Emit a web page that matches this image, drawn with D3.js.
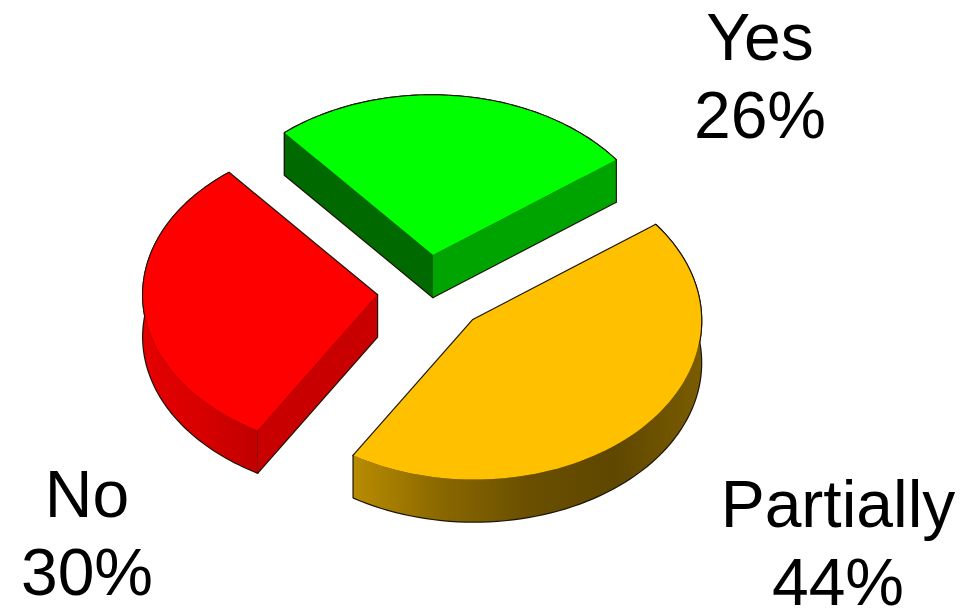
<!DOCTYPE html>
<html>
<head>
<meta charset="utf-8">
<script src="https://cdn.jsdelivr.net/npm/d3@7"></script>
<style>
html, body { margin: 0; padding: 0; background: #fff; }
svg { display: block; }
text { font-family: "Liberation Sans", Arial, sans-serif; font-size: 66px; fill: #000; }
</style>
</head>
<body>
<script>
// chart values
const categories = ['Yes', 'Partially', 'No']
const shares = [26, 44, 30]

// colours per slice
const topColors = ['#00ff00', '#ffc000', '#ff0000']
const startWallColors = ['#006a00', '#7a5c00', '#c80000']
const endWallColors = ['#00a400', '#7a5c00', '#d20000']
const outerWallStops = [
    ['#00a000', '#00a000'],
    ['#b88c00', '#8a6800', '#6a4f00', '#5f4700', '#7a5c00'],
    ['#e40000', '#d80000', '#c00000']
]

// layout
const width = 963
const height = 608
const pieCenter = [431, 293]
const depth = 42
const axisU = [-148, -122]   // where angle 0 lands on screen
const axisV = [173.6, -102.9] // where a quarter turn lands on screen
const sliceShift = [[2, -38], [42, 27], [-54, 2]]
const arcBulge = [0, 0, 0.025] // the red rim sits a little further out than the ellipse
const labelPos = [[760, 60], [838, 527], [87, 517]]
const lineGap = 78

const svg = d3.select('body').append('svg')
    .attr('width', width)
    .attr('height', height)

const arcs = d3.pie().sort(null).value(d => d)(shares)

function project(a, i, r, z) {
    return [
        pieCenter[0] + sliceShift[i][0] + r * (axisU[0] * Math.cos(a) + axisV[0] * Math.sin(a)),
        pieCenter[1] + sliceShift[i][1] + r * (axisU[1] * Math.cos(a) + axisV[1] * Math.sin(a)) + z
    ]
}

const line = d3.line()

function arcPoints(d, i, z) {
    const n = 80
    return d3.range(n + 1).map(k => {
        const a = d.startAngle + (d.endAngle - d.startAngle) * k / n
        return project(a, i, 1 + arcBulge[i] * Math.sin(Math.PI * k / n), z)
    })
}

const topPath = (d, i) => line([project(0, i, 0, 0), ...arcPoints(d, i, 0)]) + 'Z'
const outerPath = (d, i) => line([...arcPoints(d, i, 0), ...arcPoints(d, i, depth).reverse()]) + 'Z'
const radialPath = (a, i) => line([
    project(a, i, 0, 0), project(a, i, 1, 0), project(a, i, 1, depth), project(a, i, 0, depth)
]) + 'Z'

// a radial wall shows only if the slice lies above its edge, not below it
function wallShows(a, d, i) {
    const o = project(0, i, 0, 0)
    const e = project(a, i, 1, 0)
    const m = project((d.startAngle + d.endAngle) / 2, i, 1, 0)
    const ex = e[0] - o[0]
    const ey = e[1] - o[1]
    const crossMid = ex * (m[1] - o[1]) - ey * (m[0] - o[0])
    return crossMid * ex < 0
}

const defs = svg.append('defs')
arcs.forEach((d, i) => {
    const xs = arcPoints(d, i, 0).map(p => p[0])
    const grad = defs.append('linearGradient')
        .attr('id', 'outer' + i)
        .attr('gradientUnits', 'userSpaceOnUse')
        .attr('x1', d3.min(xs)).attr('x2', d3.max(xs))
        .attr('y1', 0).attr('y2', 0)
    grad.selectAll('stop')
        .data(outerWallStops[i])
        .join('stop')
        .attr('offset', (c, k, all) => k / (all.length - 1))
        .attr('stop-color', c => c)
})

// dark outline goes under everything, only its outer half stays visible
const outline = svg.append('g')
    .attr('fill', '#1c1408')
    .attr('stroke', '#1c1408')
    .attr('stroke-width', 2.4)
    .attr('stroke-linejoin', 'round')
const slicesLayer = svg.append('g')

arcs.forEach((d, i) => {
    const g = slicesLayer.append('g').attr('class', 'slice')

    outline.append('path').attr('d', outerPath(d, i))
    g.append('path').attr('d', outerPath(d, i)).attr('fill', `url(#outer${i})`)

    if (wallShows(d.startAngle, d, i)) {
        outline.append('path').attr('d', radialPath(d.startAngle, i))
        g.append('path').attr('d', radialPath(d.startAngle, i)).attr('fill', startWallColors[i])
    }
    if (wallShows(d.endAngle, d, i)) {
        outline.append('path').attr('d', radialPath(d.endAngle, i))
        g.append('path').attr('d', radialPath(d.endAngle, i)).attr('fill', endWallColors[i])
    }

    outline.append('path').attr('d', topPath(d, i))
    g.append('path').attr('d', topPath(d, i)).attr('fill', topColors[i])
})

const labels = svg.selectAll('g.label')
    .data(categories)
    .join('g')
    .attr('class', 'label')
    .attr('text-anchor', 'middle')
labels.append('text')
    .attr('x', (d, i) => labelPos[i][0])
    .attr('y', (d, i) => labelPos[i][1])
    .text(d => d)
labels.append('text')
    .attr('x', (d, i) => labelPos[i][0])
    .attr('y', (d, i) => labelPos[i][1] + lineGap)
    .text((d, i) => shares[i] + '%')
</script>
</body>
</html>
